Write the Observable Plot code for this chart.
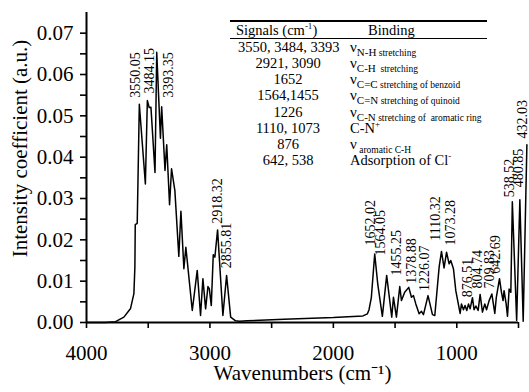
<!DOCTYPE html>
<html><head><meta charset="utf-8">
<script src="https://cdn.jsdelivr.net/npm/d3@7"></script>
<script src="https://cdn.jsdelivr.net/npm/@observablehq/plot@0.6"></script>
<style>
body{margin:0;background:#fff;}
#wrap{position:relative;width:529px;height:392px;font-family:"Liberation Serif","Times New Roman",serif;color:#000;}
#wrap svg{display:block;position:absolute;left:0;top:0;font-family:"Liberation Serif","Times New Roman",serif !important;}
#wrap svg text{font-family:"Liberation Serif","Times New Roman",serif !important;}
.hl{position:absolute;background:#000;}
.cell{position:absolute;white-space:nowrap;line-height:16px;height:16px;}
.sig{font-size:14.5px;text-align:center;}
.nu{font-size:15px;}
.chem{font-size:11px;position:relative;top:4px;}
.rest{font-size:9.5px;position:relative;top:4px;}
.big{font-size:14.5px;}
sup{font-size:9px;vertical-align:6px;line-height:0;}
</style></head><body><div id="wrap"></div>
<script>
// ---- spectrum (wavenumber cm-1, intensity a.u.) ----
const wavenumber = [4000,3850,3765,3697,3643,3616,3608,3605,3589,3572,3523,3507,3492,3478,3445,3431,3401,3391,3364,3350,3327,3311,3284,3252,3235,3211,3195,3143,3103,3076,3057,3035,3016,3005,2989,2973,2960,2938,2895,2865,2832,2792,2760,2700,2400,2000,1760,1724,1711,1692,1665,1640,1603,1568,1527,1513,1489,1462,1448,1422,1389,1367,1351,1332,1305,1286,1270,1233,1197,1178,1143,1124,1103,1083,1062,1049,1027,1008,973,962,946,933,919,905,892,873,860,845,827,811,792,773,759,738,716,692,680,654,638,625,617,600,589,576,562,550,515,489,462,432];
const intensity = [0,0,0.0002,0.0013,0.0034,0.007,0.0134,0.0237,0.024,0.0528,0.0335,0.0537,0.052,0.0521,0.0363,0.0654,0.0446,0.0522,0.0368,0.043,0.0285,0.0372,0.0319,0.016,0.0269,0.013,0.0182,0.0029,0.0126,0.0017,0.0106,0.0033,0.0087,0.0082,0.0041,0.0164,0.0158,0.0224,0.0017,0.0114,0.0013,0.0004,0.0003,0.0004,0.0008,0.0012,0.0016,0.0021,0.0031,0.0061,0.0166,0.0092,0.0015,0.0114,0.0013,0.0061,0.0013,0.0087,0.0053,0.0073,0.0085,0.0061,0.0065,0.0045,0.0021,0.0027,0.0019,0.0065,0.0019,0.0017,0.0134,0.0172,0.0132,0.017,0.0142,0.015,0.013,0.0077,0.0022,0.0045,0.0031,0.0041,0.0029,0.0045,0.0033,0.006,0.0031,0.004,0.0029,0.0068,0.0025,0.0045,0.0031,0.0053,0.0069,0.0022,0.006,0.0106,0.0073,0.0053,0.0077,0.0045,0.0015,0.0081,0.0073,0.0292,0.0005,0.0297,0.0003,0.043];

// ---- peak labels ----
const peakText = ["3550.05","3484.15","3393.35","2918.32","2855.81","1652.02","1564.05","1455.25","1378.88","1226.07","1110.32","1073.28","876.51","804.74","709.83","642.69","538.52","480.85","432.03"];
const peakW = [3603,3487,3333,2940,2865,1697,1616,1486,1365,1260,1170,1054,913,832,738,684,573,503,470];
const peakV = [0.0544,0.0554,0.0544,0.0239,0.0131,0.0186,0.0162,0.0114,0.0094,0.0076,0.0198,0.0186,0.0061,0.0082,0.0082,0.0118,0.0303,0.0327,0.0445];

// ---- axes ----
const xTicks = [4000,3500,3000,2500,2000,1500,1000,500];
const xTickLabels = ["4000","","3000","","2000","","1000",""];
const yTicks = [0,0.005,0.01,0.015,0.02,0.025,0.03,0.035,0.04,0.045,0.05,0.055,0.06,0.065,0.07];
const yTickLabels = ["0.00","","0.01","","0.02","","0.03","","0.04","","0.05","","0.06","","0.07"];
const xTitle = "Wavenumbers (cm\u207B\u00B9)";
const yTitle = "Intensity coefficient (a.u.)";

// ---- table ----
const signals = ["3550, 3484, 3393","2921, 3090","1652","1564,1455","1226","1110, 1073","876","642, 538"];
const bindNu = ["\u03BD","\u03BD","\u03BD","\u03BD","\u03BD","","\u03BD",""];
const bindChem = ["N-H","C-H","C=C","C=N","C-N","","",""];
const bindRest = [" stretching","  stretching"," stretching of benzoid"," stretching of quinoid"," stretching of  aromatic ring",""," aromatic C-H",""];
const bindBig = ["","","","","","C-N<sup>+</sup>","","Adsorption of Cl<sup>-</sup>"];

const spectrum = wavenumber.map((w,i)=>({w, v:intensity[i]}));
const peaks = peakText.map((t,i)=>({t, w:peakW[i], v:peakV[i]}));
const serif = '"Liberation Serif","Times New Roman",serif';

const plot = Plot.plot({
  width:529, height:392,
  marginLeft:86, marginRight:11, marginTop:12, marginBottom:70,
  style:{fontFamily:serif, background:"#fff", color:"#000"},
  x:{domain:[4000,500]},
  y:{domain:[0,0.075]},
  marks:[
    Plot.axisX({ticks:xTicks, tickFormat:(d,i)=>xTickLabels[i], tickSize:6, tickPadding:17, fontSize:21, strokeWidth:1.6, label:null}),
    Plot.axisY({ticks:yTicks, tickFormat:(d,i)=>yTickLabels[i], tickSize:6, tickPadding:7, fontSize:21, strokeWidth:1.6, label:null}),
    Plot.ruleY([0],{x1:4000,x2:500,strokeWidth:2}),
    Plot.ruleX([4000],{y1:0,y2:0.075,strokeWidth:2}),
    Plot.line(spectrum,{x:"w",y:"v",stroke:"#000",strokeWidth:1.5}),
    Plot.text(peaks,{x:"w",y:"v",text:"t",rotate:-90,textAnchor:"start",fontSize:14,fill:"#000"}),
    Plot.text([xTitle],{frameAnchor:"bottom",dy:57,fontSize:21,fill:"#000"}),
    Plot.text([yTitle],{frameAnchor:"left",textAnchor:"middle",dx:-66,dy:-19,rotate:-90,fontSize:21,fill:"#000"})
  ]
});
const wrap = document.getElementById("wrap");
wrap.appendChild(plot);

function add(html, cls, style){
  const d=document.createElement("div");
  d.className=cls; d.innerHTML=html; Object.assign(d.style, style); wrap.appendChild(d); return d;
}
add("", "hl", {left:"230px", top:"19.5px", width:"257px", height:"2px"});
add("", "hl", {left:"230px", top:"37.8px", width:"257px", height:"1.5px"});
add("Signals (cm<sup>-1</sup>)", "cell big", {left:"236px", top:"22px"});
add("Binding", "cell big", {left:"368px", top:"22px"});
signals.forEach((s,i)=>{
  const cy = 46.7 + 16.2*i;
  add(s, "cell sig", {left:"238px", width:"100px", top:(cy-8)+"px"});
  let h = "";
  if (bindNu[i]) h += `<span class="nu">${bindNu[i]}</span>`;
  if (bindChem[i]) h += `<span class="chem">${bindChem[i]}</span>`;
  if (bindRest[i]) h += `<span class="rest">${bindRest[i].replace(/ /g,"&nbsp;")}</span>`;
  if (bindBig[i]) h += `<span class="big">${bindBig[i]}</span>`;
  add(h, "cell", {left:"350px", top:(cy-8)+"px"});
});
</script>
</body></html>
